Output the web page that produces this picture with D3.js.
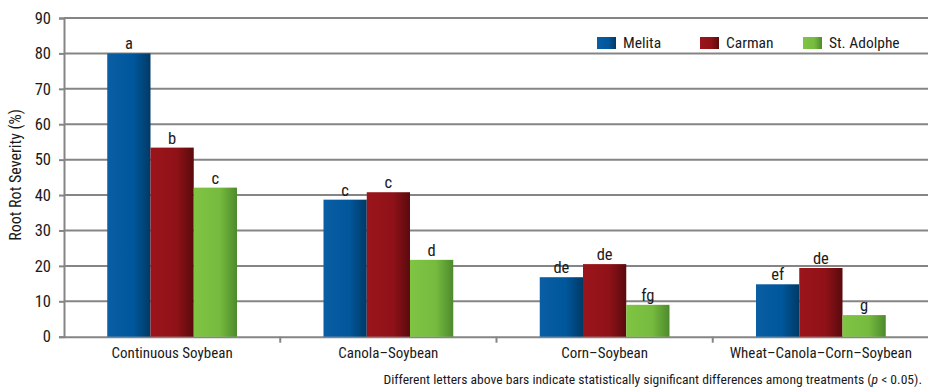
<!DOCTYPE html>
<html><head><meta charset="utf-8">
<script src="https://cdn.jsdelivr.net/npm/d3@7"></script>
<style>
body{margin:0;background:#fff;}
text{font-family:"Roboto Condensed","Liberation Sans Narrow",sans-serif;fill:#1a1a1a;}
</style></head>
<body><svg id="c" width="928" height="390"></svg>
<script>
const categories = ["Continuous Soybean","Canola\u2013Soybean","Corn\u2013Soybean","Wheat\u2013Canola\u2013Corn\u2013Soybean"];
const seriesNames = ["Melita","Carman","St. Adolphe"];
const melita = [80, 38.7, 16.8, 14.8];
const carman = [53.4, 40.8, 20.5, 19.4];
const stAdolphe = [42.1, 21.7, 9.0, 6.1];
const letters = [["a","c","de","ef"],["b","c","de","de"],["c","d","fg","g"]];
const yTicks = [0,10,20,30,40,50,60,70,80,90];
const yTitle = "Root Rot Severity (%)";
const footnote = ["Different letters above bars indicate statistically significant differences among treatments (", "p", " < 0.05)."];

const series = [melita, carman, stAdolphe];
const colors = [["#0a5ea3","#00579b","#003a66"],["#9b151b","#8f1218","#5a0a0d"],["#80c443","#76bb3f","#4d8a2c"]];

const svg = d3.select("#c");
const L=64, R=929, T=18, B=336.7;
const x0 = d3.scaleBand().domain(categories).range([L,R]).paddingInner(0).paddingOuter(0);
const x1 = d3.scaleBand().domain(seriesNames).range([0,x0.bandwidth()]).paddingOuter(1.0).paddingInner(0);
const y = d3.scaleLinear().domain([0,90]).range([B,T]);

const defs = svg.append("defs");
colors.forEach((c,i)=>{
  const g = defs.append("linearGradient").attr("id","g"+i).attr("x1","0").attr("x2","1").attr("y1","0").attr("y2","0");
  g.append("stop").attr("offset","0").attr("stop-color",c[0]);
  g.append("stop").attr("offset","0.6").attr("stop-color",c[1]);
  g.append("stop").attr("offset","1").attr("stop-color",c[2]);
});

// gridlines
svg.append("g").selectAll("line").data(yTicks.slice(1)).join("line")
  .attr("x1",L).attr("x2",R).attr("y1",d=>y(d)).attr("y2",d=>y(d))
  .attr("stroke","#858585").attr("stroke-width",2);

// y axis
const ya = svg.append("g").attr("transform",`translate(${L},0)`)
  .call(d3.axisLeft(y).tickValues(yTicks).tickSize(5).tickPadding(8));
ya.select(".domain").attr("stroke","#858585").attr("stroke-width",2);
ya.selectAll(".tick line").attr("stroke","#858585").attr("stroke-width",2);
ya.selectAll(".tick text").attr("font-size",16.5).attr("fill","#1a1a1a").attr("font-family",null);

// x axis
const xa = svg.append("g").attr("transform",`translate(0,${B})`)
  .call(d3.axisBottom(x0).tickSize(0).tickPadding(11));
xa.select(".domain").attr("stroke","#858585").attr("stroke-width",2);
xa.selectAll(".tick text").attr("font-size",15).attr("fill","#1a1a1a").attr("font-family",null);
svg.append("g").selectAll("line").data(categories.slice(1)).join("line")
  .attr("x1",d=>x0(d)).attr("x2",d=>x0(d)).attr("y1",B).attr("y2",B+6)
  .attr("stroke","#858585").attr("stroke-width",2);

// bars
const groups = svg.append("g").selectAll("g").data(categories).join("g")
  .attr("transform",d=>`translate(${x0(d)},0)`);
seriesNames.forEach((s,si)=>{
  groups.append("rect")
    .attr("x",x1(s)).attr("width",x1.bandwidth())
    .attr("y",(d,ci)=>y(series[si][ci])).attr("height",(d,ci)=>B-y(series[si][ci]))
    .attr("fill",`url(#g${si})`);
  groups.append("text")
    .attr("x",x1(s)+x1.bandwidth()/2).attr("y",(d,ci)=>y(series[si][ci])-4)
    .attr("text-anchor","middle").attr("font-size",16.5)
    .text((d,ci)=>letters[si][ci]);
});

// y title
svg.append("text").attr("transform","translate(21,175) rotate(-90)")
  .attr("text-anchor","middle").attr("font-size",16).text(yTitle);

// legend
const lx = [597,700,803];
const lg = svg.append("g").selectAll("g").data(seriesNames).join("g")
  .attr("transform",(d,i)=>`translate(${lx[i]},31)`);
lg.append("rect").attr("width",19).attr("height",12).attr("y",6).attr("fill",(d,i)=>`url(#g${i})`);
lg.append("text").attr("x",26).attr("y",17).attr("font-size",15.5).text(d=>d);

// footnote
const fn = svg.append("text").attr("x",922).attr("y",384).attr("text-anchor","end").attr("font-size",13.6);
fn.append("tspan").text(footnote[0]);
fn.append("tspan").attr("font-style","italic").text(footnote[1]);
fn.append("tspan").text(footnote[2]);
</script></body></html>
